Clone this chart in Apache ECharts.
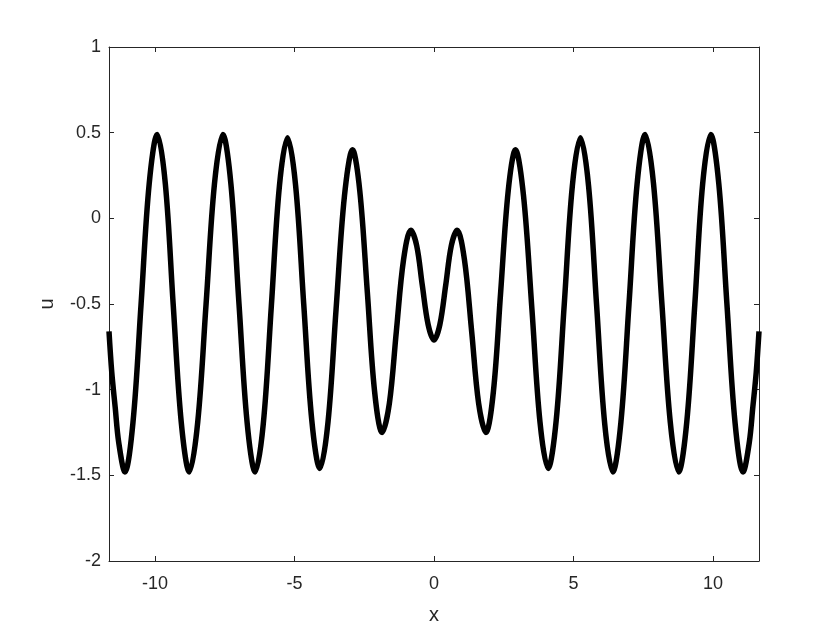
<!DOCTYPE html>
<html>
<head>
<meta charset="utf-8">
<script src="https://cdn.jsdelivr.net/npm/echarts@6/dist/echarts.min.js"></script>
<style>
  html, body { margin: 0; padding: 0; background: #fff; }
  #chart { width: 840px; height: 630px; }
</style>
</head>
<body>
<div id="chart"></div>
<script>
// curve (left half, then right half)
const xValues = [
  -11.65, -11.55, -11.43, -11.30, -11.08, -10.79, -10.50, -10.21, -9.92, -9.63, -9.35, -9.06,
  -8.77, -8.47, -8.17, -7.87, -7.57, -7.28, -6.99, -6.70, -6.41, -6.12, -5.83, -5.54,
  -5.25, -4.96, -4.67, -4.38, -4.09, -3.80, -3.51, -3.21, -2.92, -2.66, -2.39, -2.13,
  -1.86, -1.60, -1.35, -1.09, -0.83, -0.62, -0.42, -0.21, 0,
  0.21, 0.42, 0.62, 0.83, 1.09, 1.35, 1.60, 1.86, 2.13, 2.39, 2.66, 2.92,
  3.21, 3.51, 3.80, 4.09, 4.38, 4.67, 4.96, 5.25, 5.54, 5.83, 6.12, 6.41,
  6.70, 6.99, 7.28, 7.57, 7.87, 8.17, 8.47, 8.77, 9.06, 9.35, 9.63, 9.92,
  10.21, 10.50, 10.79, 11.08, 11.30, 11.43, 11.55, 11.65
]
const uValues = [
  -0.66, -0.90, -1.10, -1.31, -1.48, -1.19, -0.50, 0.20, 0.49, 0.20, -0.50, -1.19,
  -1.48, -1.19, -0.50, 0.20, 0.49, 0.20, -0.50, -1.19, -1.48, -1.20, -0.51, 0.19,
  0.47, 0.19, -0.50, -1.18, -1.46, -1.19, -0.53, 0.13, 0.40, 0.16, -0.43, -1.01,
  -1.25, -1.08, -0.66, -0.24, -0.07, -0.16, -0.39, -0.62, -0.71,
  -0.62, -0.39, -0.16, -0.07, -0.24, -0.66, -1.08, -1.25, -1.01, -0.43, 0.16, 0.40,
  0.13, -0.53, -1.19, -1.46, -1.18, -0.50, 0.19, 0.47, 0.19, -0.51, -1.20, -1.48,
  -1.19, -0.50, 0.20, 0.49, 0.20, -0.50, -1.19, -1.48, -1.19, -0.50, 0.20, 0.49,
  0.20, -0.50, -1.19, -1.48, -1.31, -1.10, -0.90, -0.66
]
const xTicks = [-10, -5, 0, 5, 10]
const yTicks = [-2, -1.5, -1, -0.5, 0, 0.5, 1]

const axisColor = '#262626'
const font = 'Liberation Sans, Arial, sans-serif'

const curve = xValues.map((x, i) => [x, uValues[i]])

// 坐标轴公共样式
function makeXAxis(pos, withLabels) {
  return {
    type: 'value',
    position: pos,
    min: -11.65,
    max: 11.65,
    name: withLabels ? 'x' : '',
    nameLocation: 'middle',
    nameGap: 44,
    nameTextStyle: { color: axisColor, fontSize: 20, fontFamily: font },
    axisLine: { show: true, onZero: false, lineStyle: { color: axisColor, width: 1 } },
    axisTick: { show: true, inside: true, length: 5, customValues: xTicks, lineStyle: { color: axisColor } },
    axisLabel: {
      show: withLabels,
      customValues: xTicks,
      margin: 14,
      color: axisColor,
      fontSize: 18,
      fontFamily: font
    },
    splitLine: { show: false }
  }
}

function makeYAxis(pos, withLabels) {
  return {
    type: 'value',
    position: pos,
    min: -2,
    max: 1,
    interval: 0.5,
    name: withLabels ? 'u' : '',
    nameLocation: 'middle',
    nameGap: 52,
    nameRotate: 90,
    nameTextStyle: { color: axisColor, fontSize: 20, fontFamily: font },
    axisLine: { show: true, onZero: false, lineStyle: { color: axisColor, width: 1 } },
    axisTick: { show: true, inside: true, length: 5, lineStyle: { color: axisColor } },
    axisLabel: {
      show: withLabels,
      margin: 8,
      color: axisColor,
      fontSize: 18,
      fontFamily: font,
      formatter: v => (yTicks.includes(v) ? String(v) : '')
    },
    splitLine: { show: false }
  }
}

const chart = echarts.init(document.getElementById('chart'), null, { renderer: 'canvas' })
chart.setOption({
  animation: false,
  backgroundColor: '#fff',
  grid: { left: 109, right: 81, top: 47, bottom: 69, containLabel: false },
  xAxis: [makeXAxis('bottom', true), makeXAxis('top', false)],
  yAxis: [makeYAxis('left', true), makeYAxis('right', false)],
  series: [
    {
      type: 'line',
      data: curve,
      xAxisIndex: 0,
      yAxisIndex: 0,
      smooth: 0.35,
      symbol: 'none',
      lineStyle: { color: '#000', width: 5.5 }
    }
  ]
})
</script>
</body>
</html>
